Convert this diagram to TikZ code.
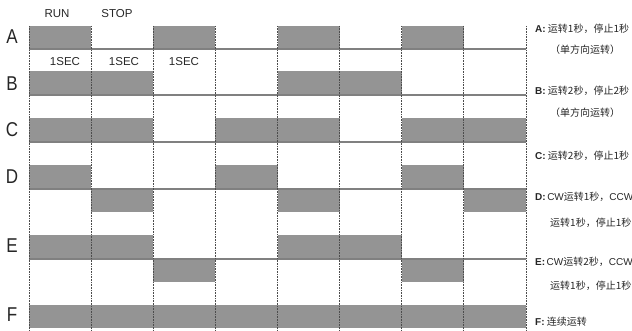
\documentclass[tikz,border=0pt]{standalone}
\usepackage{fontspec}
\setmainfont{Liberation Sans}
\newfontfamily\cjkfont{Noto Sans CJK SC}
\newfontfamily\narrowfont[FakeStretch=0.85]{Liberation Sans}
\newfontfamily\latinbold{Liberation Sans Bold}
\tikzset{
  barfill/.style={fill=black!42},
  axisline/.style={draw=black!50, line width=1.4pt},
  vline/.style={draw=black!70, line width=0.8pt, dash pattern=on 0.8pt off 0.8pt},
  rowlabel/.style={font=\narrowfont\fontsize{20}{20}\selectfont, text=black!85, inner sep=0pt},
  toplabel/.style={font=\fontsize{11.5}{11.5}\selectfont, text=black!85, inner sep=0pt},
  desc/.style={font=\cjkfont\fontsize{10}{10}\selectfont, text=black!85, inner sep=0pt, anchor=west},
}
\begin{document}
\begin{tikzpicture}[x=1pt,y=-1pt]
\useasboundingbox (0,0) rectangle (632,331);
\clip (0,0) rectangle (632,331);
\def\cw{62.125}
% A
\foreach \i in {0,2,4,6} \fill[barfill] ({29+\cw*\i},26) rectangle ({29+\cw*(\i+1)},49);
% B
\foreach \i in {0,1,4,5} \fill[barfill] ({29+\cw*\i},71) rectangle ({29+\cw*(\i+1)},95);
% C
\foreach \i in {0,1,3,4,6,7} \fill[barfill] ({29+\cw*\i},118) rectangle ({29+\cw*(\i+1)},142);
% D
\foreach \i in {0,3,6} \fill[barfill] ({29+\cw*\i},165) rectangle ({29+\cw*(\i+1)},189);
\foreach \i in {1,4,7} \fill[barfill] ({29+\cw*\i},189) rectangle ({29+\cw*(\i+1)},212);
% E
\foreach \i in {0,1,4,5} \fill[barfill] ({29+\cw*\i},235) rectangle ({29+\cw*(\i+1)},259);
\foreach \i in {2,6} \fill[barfill] ({29+\cw*\i},259) rectangle ({29+\cw*(\i+1)},282);
% F
\foreach \i in {0,...,7} \fill[barfill] ({29+\cw*\i},305) rectangle ({29+\cw*(\i+1)},328);
% base lines
\foreach \y in {49,95,142,189,259} \draw[axisline] (29,\y) -- (526,\y);
% vertical dotted lines
\foreach \i in {0,...,8} \draw[vline] ({29+\cw*\i},26) -- ({29+\cw*\i},331);
% row labels
\node[rowlabel] (lA) at (12,37) {A};
\node[rowlabel] (lB) at (12,84) {B};
\node[rowlabel] (lC) at (12,130) {C};
\node[rowlabel] (lD) at (12,177) {D};
\node[rowlabel] (lE) at (12,246) {E};
\node[rowlabel] (lF) at (12,315) {F};
% top labels
\node[toplabel] (run) at (57,14) {RUN};
\node[toplabel] (stop) at (117,14) {STOP};
\node[toplabel] (s1) at (65,62) {1SEC};
\node[toplabel] (s2) at (124,62) {1SEC};
\node[toplabel] (s3) at (184,62) {1SEC};
% descriptions
\node[desc] (dA) at (535,29) {{\latinbold A:} 运转1秒，停止1秒};
\node[desc] (dA2) at (550,50) {（单方向运转）};
\node[desc] (dB) at (535,91) {{\latinbold B:} 运转2秒，停止2秒};
\node[desc] (dB2) at (550,113) {（单方向运转）};
\node[desc] (dC) at (535,156) {{\latinbold C:} 运转2秒，停止1秒};
\node[desc] (dD) at (535,197) {{\latinbold D:}\hspace{1.5pt}{\fontspec{Liberation Sans}CW}运转1秒，{\fontspec{Liberation Sans}CCW}};
\node[desc] (dD2) at (550,223) {运转1秒，停止1秒};
\node[desc] (dE) at (535,262) {{\latinbold E:}\hspace{1.5pt}{\fontspec{Liberation Sans}CW}运转2秒，{\fontspec{Liberation Sans}CCW}};
\node[desc] (dE2) at (550,286) {运转1秒，停止1秒};
\node[desc] (dF) at (535,322) {{\latinbold F:} 连续运转};
\end{tikzpicture}
\end{document}
